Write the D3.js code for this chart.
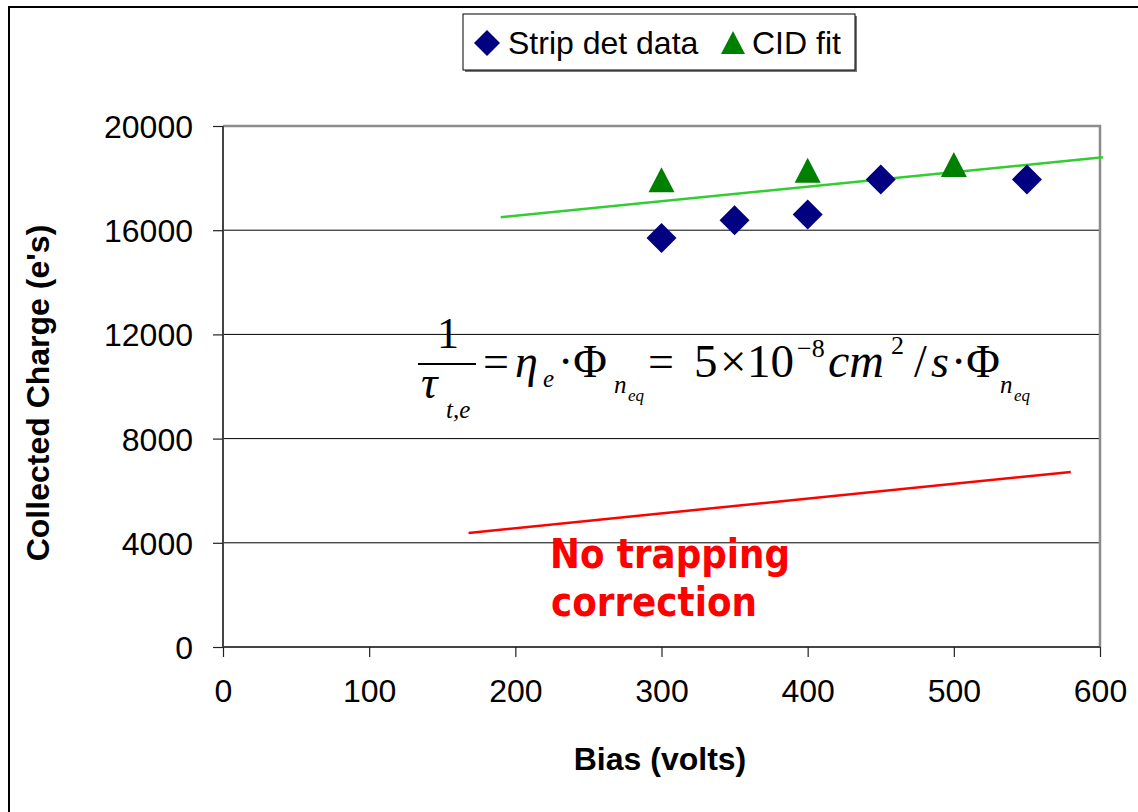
<!DOCTYPE html>
<html>
<head>
<meta charset="utf-8">
<script src="https://cdn.jsdelivr.net/npm/d3@7"></script>
<style>
  html, body { margin: 0; padding: 0; background: #fff; }
  svg { display: block; }
</style>
</head>
<body>
<div id="chart"></div>
<script>
// --- data ---
var stripBias = [300, 350, 400, 450, 550];
var stripCharge = [15700, 16380, 16600, 17950, 17950];

var cidBias = [300, 400, 500];
var cidCharge = [17920, 18280, 18500];

// straight lines: [bias, charge] end points
var cidFitLine = [[190, 16500], [602, 18800]];
var noTrapLine = [[168, 4380], [580, 6720]];

var xTicks = [0, 100, 200, 300, 400, 500, 600];
var yTicks = [0, 4000, 8000, 12000, 16000, 20000];

// --- setup ---
var W = 1138, H = 812;
var colorStrip = "#000080";
var colorCid = "#008000";
var colorFit = "#33cc33";
var colorRed = "#ff0000";
var sans = "'Liberation Sans', Arial, sans-serif";
var serif = "'Liberation Serif', 'Times New Roman', serif";

var svg = d3.select("#chart").append("svg")
    .attr("width", W).attr("height", H);

svg.append("rect").attr("width", W).attr("height", H).attr("fill", "#fff");

// outer chart frame (runs off the right/bottom edge)
svg.append("rect")
    .attr("x", 9).attr("y", 7)
    .attr("width", W + 20).attr("height", H + 20)
    .attr("fill", "none").attr("stroke", "#000").attr("stroke-width", 2);

var x = d3.scaleLinear().domain([0, 600]).range([223, 1100]);
var y = d3.scaleLinear().domain([0, 20000]).range([647, 126]);

// gridlines
svg.append("g").selectAll("line")
    .data(yTicks.filter(function(d) { return d > 0 && d < 20000; }))
    .enter().append("line")
    .attr("x1", x(0)).attr("x2", x(600))
    .attr("y1", function(d) { return y(d); })
    .attr("y2", function(d) { return y(d); })
    .attr("stroke", "#000").attr("stroke-width", 1);

// plot border top & right (grey)
svg.append("path")
    .attr("d", "M" + x(0) + "," + y(20000) + "H" + x(600) + "V" + y(0))
    .attr("fill", "none").attr("stroke", "#8c8c8c").attr("stroke-width", 2.5);

// axes
var xAxis = d3.axisBottom(x).tickValues(xTicks).tickSize(10).tickPadding(22).tickFormat(d3.format("d"));
var yAxis = d3.axisLeft(y).tickValues(yTicks).tickSize(10).tickPadding(20).tickFormat(d3.format("d"));

var gx = svg.append("g").attr("transform", "translate(0," + y(0) + ")").call(xAxis);
var gy = svg.append("g").attr("transform", "translate(" + x(0) + ",0)").call(yAxis);

[gx, gy].forEach(function(g) {
    g.select(".domain").attr("stroke", "#444").attr("stroke-width", 2);
    g.selectAll(".tick line").attr("stroke", "#222").attr("stroke-width", 1.2);
    g.selectAll(".tick text")
        .attr("fill", "#000")
        .style("font-family", sans)
        .style("font-size", "32px");
});
gy.select(".domain").attr("d", "M0," + y(20000) + "V" + y(0));
gx.select(".domain").attr("d", "M" + x(0) + ",0H" + x(600));
gy.selectAll(".tick text").attr("dy", "0.36em");
gx.selectAll(".tick text").attr("dy", "0.71em");

// axis titles
svg.append("text")
    .attr("x", 660).attr("y", 770)
    .attr("text-anchor", "middle")
    .style("font-family", sans).style("font-size", "32px").style("font-weight", "bold")
    .text("Bias (volts)");

svg.append("text")
    .attr("transform", "translate(49,393) rotate(-90)")
    .attr("text-anchor", "middle")
    .style("font-family", sans).style("font-size", "32px").style("font-weight", "bold")
    .text("Collected Charge (e's)");

// lines
var line = d3.line()
    .x(function(d) { return x(d[0]); })
    .y(function(d) { return y(d[1]); });

svg.append("path").datum(cidFitLine)
    .attr("d", line).attr("fill", "none")
    .attr("stroke", colorFit).attr("stroke-width", 2.5);

svg.append("path").datum(noTrapLine)
    .attr("d", line).attr("fill", "none")
    .attr("stroke", colorRed).attr("stroke-width", 2.5);

// markers
var diamond = "M0,-15L15,0L0,15L-15,0Z";
var triangle = "M0,-13L13,12L-13,12Z";

svg.append("g").selectAll("path")
    .data(stripBias.map(function(b, i) { return [b, stripCharge[i]]; }))
    .enter().append("path")
    .attr("d", diamond)
    .attr("transform", function(d) { return "translate(" + x(d[0]) + "," + y(d[1]) + ")"; })
    .attr("fill", colorStrip);

svg.append("g").selectAll("path")
    .data(cidBias.map(function(b, i) { return [b, cidCharge[i]]; }))
    .enter().append("path")
    .attr("d", triangle)
    .attr("transform", function(d) { return "translate(" + x(d[0]) + "," + y(d[1]) + ")"; })
    .attr("fill", colorCid);

// legend
var lg = svg.append("g");
lg.append("rect").attr("x", 465).attr("y", 16).attr("width", 392).attr("height", 56).attr("fill", "#777");
lg.append("rect").attr("x", 463).attr("y", 14).attr("width", 392).attr("height", 56)
    .attr("fill", "#fff").attr("stroke", "#000").attr("stroke-width", 1);
lg.append("path").attr("d", "M0,-13L13,0L0,13L-13,0Z")
    .attr("transform", "translate(487,43)").attr("fill", colorStrip);
lg.append("text").attr("x", 508).attr("y", 54)
    .style("font-family", sans).style("font-size", "32px")
    .text("Strip det data");
lg.append("path").attr("d", "M0,-12L12,11L-12,11Z")
    .attr("transform", "translate(733,43)").attr("fill", colorCid);
lg.append("text").attr("x", 752).attr("y", 54)
    .style("font-family", sans).style("font-size", "32px")
    .text("CID fit");

// equation, set piece by piece (Times-like)
var eq = svg.append("g").style("font-family", serif).attr("fill", "#000");
function piece(txt, px, py, size, italic) {
    eq.append("text").attr("x", px).attr("y", py)
        .style("font-size", size + "px")
        .style("font-style", italic ? "italic" : "normal")
        .text(txt);
}
piece("1", 437, 348, 44, false);
eq.append("line").attr("x1", 418).attr("x2", 476).attr("y1", 364).attr("y2", 364)
    .attr("stroke", "#000").attr("stroke-width", 2);
piece("\u03c4", 421, 398, 46, true);
piece("t,e", 446, 418, 25, true);
piece("=", 483, 377, 46, false);
piece("\u03b7", 515, 377, 46, true);
piece("e", 543, 387, 25, true);
piece("\u00b7\u03a6", 558, 377, 46, false);
piece("n", 614, 393, 25, true);
piece("eq", 628, 401, 17, true);
piece("=", 648, 377, 46, false);
piece("5", 694, 377, 47, false);
piece("\u00d7", 720, 377, 47, false);
piece("10", 747, 377, 47, false);
piece("\u22128", 797, 357, 26, false);
piece("cm", 828, 377, 48, true);
piece("2", 891, 354, 26, false);
piece("/", 914, 377, 46, false);
piece("s", 931, 377, 46, true);
piece("\u00b7\u03a6", 951, 377, 46, false);
piece("n", 1000, 393, 25, true);
piece("eq", 1014, 401, 17, true);

// annotation
var note = svg.append("g")
    .style("font-family", "'Comic Sans MS', 'DejaVu Sans', sans-serif")
    .style("font-weight", "bold").style("font-size", "40px")
    .attr("fill", colorRed);
note.append("text").attr("x", 550).attr("y", 568)
    .attr("textLength", 240).attr("lengthAdjust", "spacingAndGlyphs")
    .text("No trapping");
note.append("text").attr("x", 551).attr("y", 616)
    .attr("textLength", 206).attr("lengthAdjust", "spacingAndGlyphs")
    .text("correction");
</script>
</body>
</html>
